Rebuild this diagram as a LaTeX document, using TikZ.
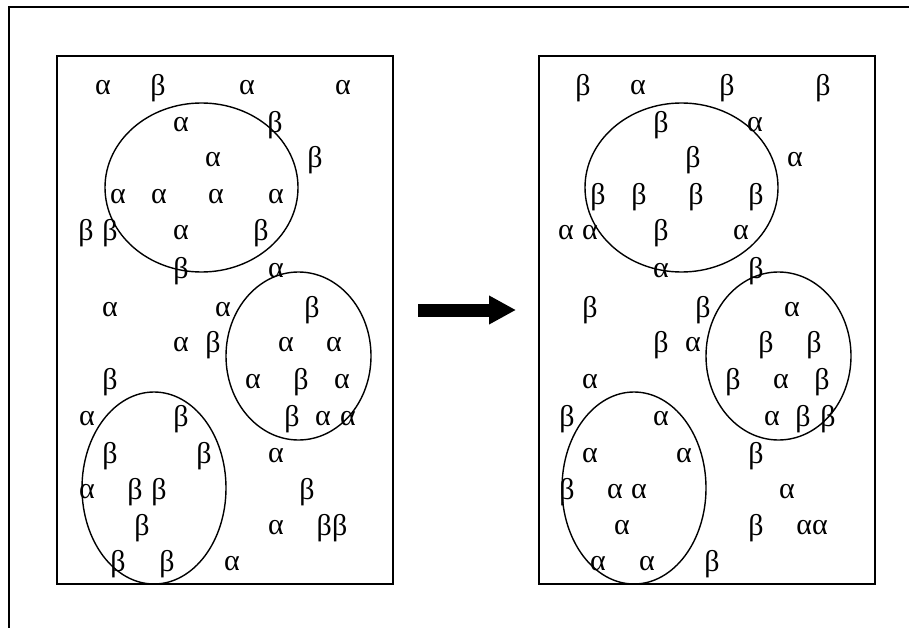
\documentclass[tikz,border=0pt]{standalone}
\usepackage{fontspec}
\setmainfont{Liberation Serif}
\usetikzlibrary{arrows.meta,positioning}
\tikzset{
    panel/.style={draw, line width=2pt, minimum width=336pt, minimum height=528pt, inner sep=0pt},
    frame/.style={line width=2pt},
    ring/.style={line width=1.4pt},
    ltr/.style={inner sep=0pt, font=\fontsize{30}{30}\selectfont},
    bigarrow/.style={line width=13pt, -{Triangle[length=27pt, width=27pt]}}
}
\newcommand{\lalpha}{α}
\newcommand{\lbeta}{β}
% one panel: the three groups and the scattered letters
\newcommand{\field}[1]{%
    \draw[ring] (201.5,187.5) ellipse [x radius=96.5pt, y radius=84.5pt];
    \draw[ring] (298.5,356) ellipse [x radius=72.5pt, y radius=84pt];
    \draw[ring] (154,488) ellipse [x radius=72pt, y radius=96pt];
    \foreach \x/\y/\t [count=\i] in {
        103/88/\lalpha, 158/88/\lbeta, 247/88/\lalpha, 343/88/\lalpha,
        181/125/\lalpha, 275/125/\lbeta,
        213/160/\lalpha, 315/160/\lbeta,
        118/197/\lalpha, 159/197/\lalpha, 216/197/\lalpha, 276/197/\lalpha,
        86/233/\lbeta, 110/233/\lbeta, 181/233/\lalpha, 261/233/\lbeta,
        181/271/\lbeta, 276/271/\lalpha,
        110/310/\lalpha, 223/310/\lalpha, 312/310/\lbeta,
        181/345/\lalpha, 213/345/\lbeta, 286/345/\lalpha, 334/345/\lalpha,
        110/382/\lbeta, 253/382/\lalpha, 301/382/\lbeta, 342/382/\lalpha,
        87/419/\lalpha, 181/419/\lbeta, 292/419/\lbeta, 323/419/\lalpha, 348/419/\lalpha,
        110/456/\lbeta, 204/456/\lbeta, 276/456/\lalpha,
        87/492/\lalpha, 135/492/\lbeta, 159/492/\lbeta, 307/492/\lbeta,
        142/528/\lbeta, 276/528/\lalpha, 332/528/{\lbeta\lbeta},
        118/564/\lbeta, 167/564/\lbeta, 232/564/\lalpha}
        \node[ltr] (#1\i) at (\x,\y) {\t};
}

\begin{document}
\begin{tikzpicture}[x=1pt, y=-1pt]
    \useasboundingbox (0,0) rectangle (909,628);
    \draw[frame] (909,7.5) -- (9,7.5) -- (9,628);

    \node[panel] (before) at (225,320) {};
    \node[panel, right=144pt of before] (after) {};

    \field{l}
    % same spots, letters swapped
    \begin{scope}[shift={(480,0)}]
        \let\lswap\lalpha \let\lalpha\lbeta \let\lbeta\lswap
        \field{r}
    \end{scope}

    \draw[bigarrow] ([shift={(24,-10)}]before.east) -- ([shift={(-22,-10)}]after.west);
\end{tikzpicture}
\end{document}
